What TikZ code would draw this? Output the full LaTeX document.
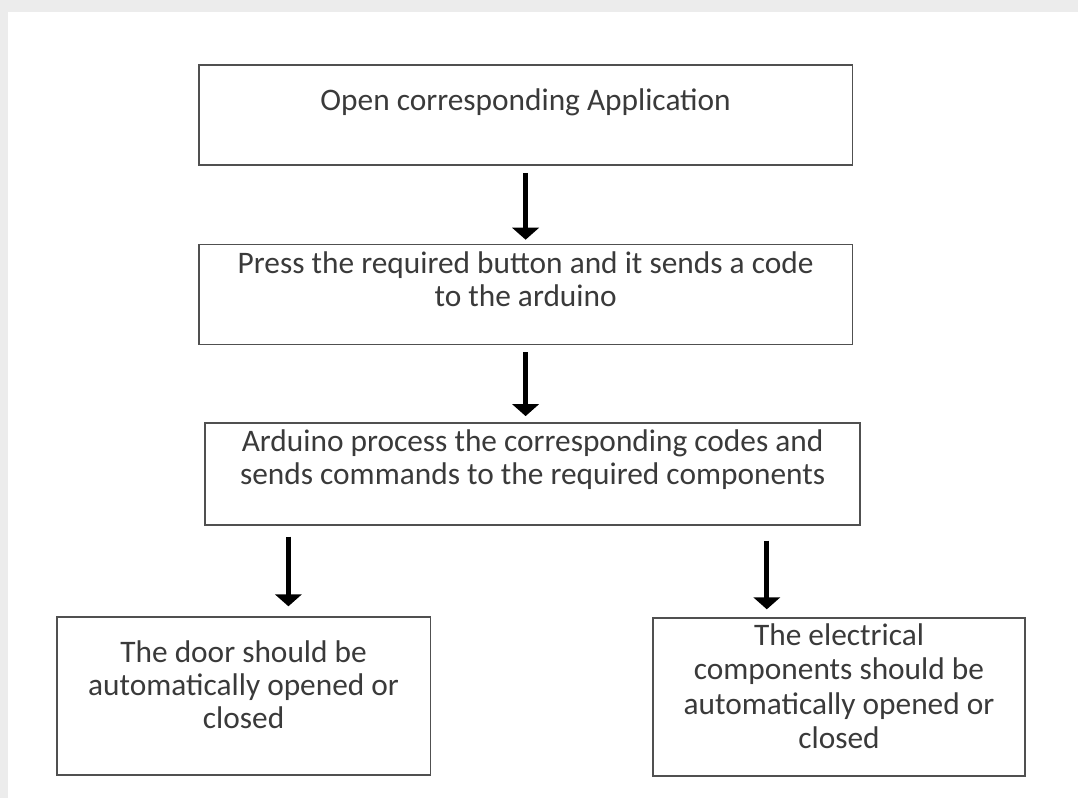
\documentclass[tikz,border=0pt]{standalone}
\usepackage{fontspec}
\setmainfont{Carlito}
\usetikzlibrary{positioning, arrows.meta, calc}
\definecolor{boxLine}{HTML}{505050}
\definecolor{boxText}{HTML}{3A3A3A}
\definecolor{pageBack}{HTML}{ECECEC}
\tikzset{
  stepbox/.style={draw=boxLine, line width=1pt, align=center, text=boxText, font=\fontsize{22.3}{23.4}\selectfont, text depth=0.75cm},
  flow/.style={-{Triangle[width=0.66cm, length=0.3cm]}, line width=3.5pt, black}
}

\begin{document}
\begin{tikzpicture}
% page
\fill[pageBack] (0,0) rectangle (26.95,-19.95);
\fill[white] (0.2,-0.3) rectangle (26.95,-19.95);
\useasboundingbox (0,0) rectangle (26.95,-19.95);

\node (openApp) [stepbox, minimum width=16.33cm, minimum height=2.5cm] at (13.14,-2.875) {Open corresponding Application};

\node (pressBtn) [stepbox, minimum width=16.33cm, minimum height=2.5cm, below=1.95cm of openApp] {Press the required button and it sends a code\\to the arduino};

\node (arduino) [stepbox, minimum width=16.375cm, minimum height=2.55cm, below=1.925cm of pressBtn, xshift=0.175cm, text depth=0.85cm] {Arduino process the corresponding codes and\\sends commands to the required components};

\node (door) [stepbox, minimum width=9.33cm, minimum height=3.95cm, text depth=0.55cm] at (6.09,-17.4) {The door should be\\automatically opened or\\closed};

\node (elec) [stepbox, minimum width=9.3cm, minimum height=3.95cm, font=\fontsize{22.3}{24.6}\selectfont, text depth=0.55cm] at (20.975,-17.425) {The electrical\\components should be\\automatically opened or\\closed};

%arrows
\draw[flow, shorten <=0.18cm, shorten >=0.1cm] (openApp) -- (pressBtn);
\draw[flow, shorten <=0.18cm, shorten >=0.15cm] (pressBtn.south) -- (pressBtn.south |- arduino.north);
\draw[flow, shorten <=0.28cm, shorten >=0.25cm]
	([xshift=2.1cm]arduino.south west) -- ([xshift=2.1cm]arduino.south west |- door.north);
\draw[flow, shorten <=0.38cm, shorten >=0.2cm]
	([xshift=-2.35cm]arduino.south east) -- ([xshift=-2.35cm]arduino.south east |- elec.north);

\end{tikzpicture}
\end{document}
